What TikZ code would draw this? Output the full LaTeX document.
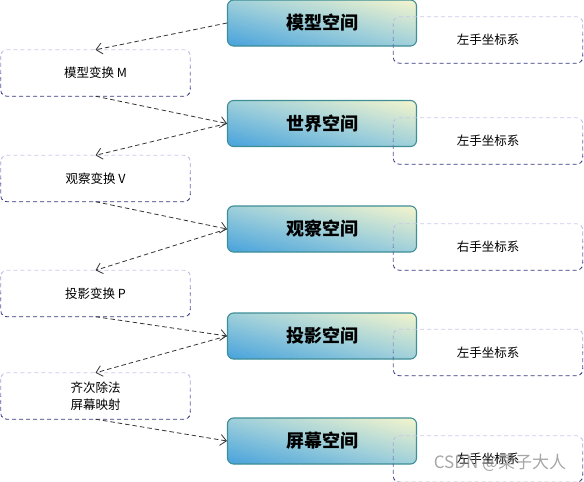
\documentclass[tikz,border=0pt]{standalone}
\usepackage{fontspec}
\newfontfamily\cjk{Noto Sans CJK SC}
\usetikzlibrary{arrows.meta,calc}
\definecolor{lav}{RGB}{208,208,242}
\definecolor{navy}{RGB}{45,45,125}
\definecolor{bblue}{RGB}{70,162,220}
\definecolor{byel}{RGB}{246,246,204}
\definecolor{bmid}{RGB}{160,208,218}
\definecolor{bteal}{RGB}{62,142,150}
\tikzset{
  space/.style={rounded corners=6pt, draw=bteal, line width=1.1pt,
    minimum width=189pt, minimum height=46pt, inner sep=0pt,
    font=\cjk\bfseries\fontsize{18}{20}\selectfont},
  tbox/.style={minimum width=189pt, minimum height=46pt, inner sep=0pt,
    align=center, font=\cjk\fontsize{12.5}{17}\selectfont},
  gdash/.style={dash pattern=on 4pt off 3pt, rounded corners=6pt, line width=0.8pt},
  conn/.style={dash pattern=on 4.5pt off 3pt, draw=black!80, line width=0.8pt,
    -{Straight Barb[length=6pt,width=11pt]}},
}
% gradient-filled space box
\newcommand\spacebox[4]{%
  \coordinate (#1c) at (#2,#3);
  \begin{scope}
    \clip[rounded corners=6pt] ($(#1c)+(-94.5pt,-23pt)$) rectangle ($(#1c)+(94.5pt,23pt)$);
    \begin{scope}[shift={(#1c)}, rotate=-13.7]
      \foreach \i in {0,...,59}{%
        \pgfmathsetmacro\f{(\i+0.5)/60}%
        \pgfmathsetmacro\ta{-45+1.5*\i}%
        \pgfmathsetmacro\tb{\ta+1.9}%
        \pgfmathsetmacro\pa{min(100,200*\f)}%
        \pgfmathsetmacro\pb{max(0,200*\f-100)}%
        \colorlet{tmpc}{bmid!\pa!bblue}%
        \fill[byel!\pb!tmpc] (-110pt,\ta pt) rectangle (110pt,\tb pt);
      }%
    \end{scope}
  \end{scope}
  \node[space] (#1) at (#1c) {#4};
}
\newcommand\gborder[1]{%
  \coordinate (gA) at ($(#1.north west)+(-3pt,3pt)$);
  \coordinate (gB) at ($(#1.south east)+(3pt,-3pt)$);
  \foreach \k in {0,...,9}{%
    \pgfmathsetmacro\pp{\k*10+5}%
    \pgfmathsetmacro\kk{(\k+1)/10}%
    \begin{scope}
      \clip ($(gA)!\k/10!(gA|-gB)$) rectangle ($(gA-|gB)!\kk!(gB)$);
      \draw[gdash, draw=navy!\pp!lav] (#1.north west) rectangle (#1.south east);
    \end{scope}
  }%
}
\begin{document}
\begin{tikzpicture}[x=1pt,y=-1pt]
\useasboundingbox (0,0) rectangle (584,482);
% space boxes
\spacebox{s1}{322}{23}{模型空间}
\spacebox{s2}{322}{123.5}{世界空间}
\spacebox{s3}{322}{229}{观察空间}
\spacebox{s4}{322}{336}{投影空间}
\spacebox{s5}{322}{441}{屏幕空间}
% coordinate system boxes
\node[tbox] (r1) at (488,40) {左手坐标系};
\node[tbox] (r2) at (488,141) {左手坐标系};
\node[tbox] (r3) at (488,247) {右手坐标系};
\node[tbox] (r4) at (488,352.5) {左手坐标系};
\node[tbox] (r5) at (488,459) {左手坐标系};
\gborder{r1}\gborder{r2}\gborder{r3}\gborder{r4}\gborder{r5}
% transform boxes
\node[tbox] (l1) at (95.5,73) {模型变换 M};
\node[tbox] (l2) at (95.5,178.5) {观察变换 V};
\node[tbox] (l3) at (95.5,293.5) {投影变换 P};
\node[tbox] (l4) at (95.5,396) {齐次除法\\屏幕映射};
\gborder{l1}\gborder{l2}\gborder{l3}\gborder{l4}
% connectors
\draw[conn] (s1.west) -- (l1.north);
\draw[conn] (l1.south) -- (s2.west);
\draw[conn] (s2.west) -- (l2.north);
\draw[conn] (l2.south) -- (s3.west);
\draw[conn] (s3.west) -- (l3.north);
\draw[conn] (l3.south) -- (s4.west);
\draw[conn] (s4.west) -- (l4.north);
\draw[conn] (l4.south) -- (s5.west);
% watermark
\node[font=\cjk\fontsize{17}{17}\selectfont, text=black!50, opacity=0.7] (wm) at (500,463) {CSDN @栗子大人};
\end{tikzpicture}
\end{document}
